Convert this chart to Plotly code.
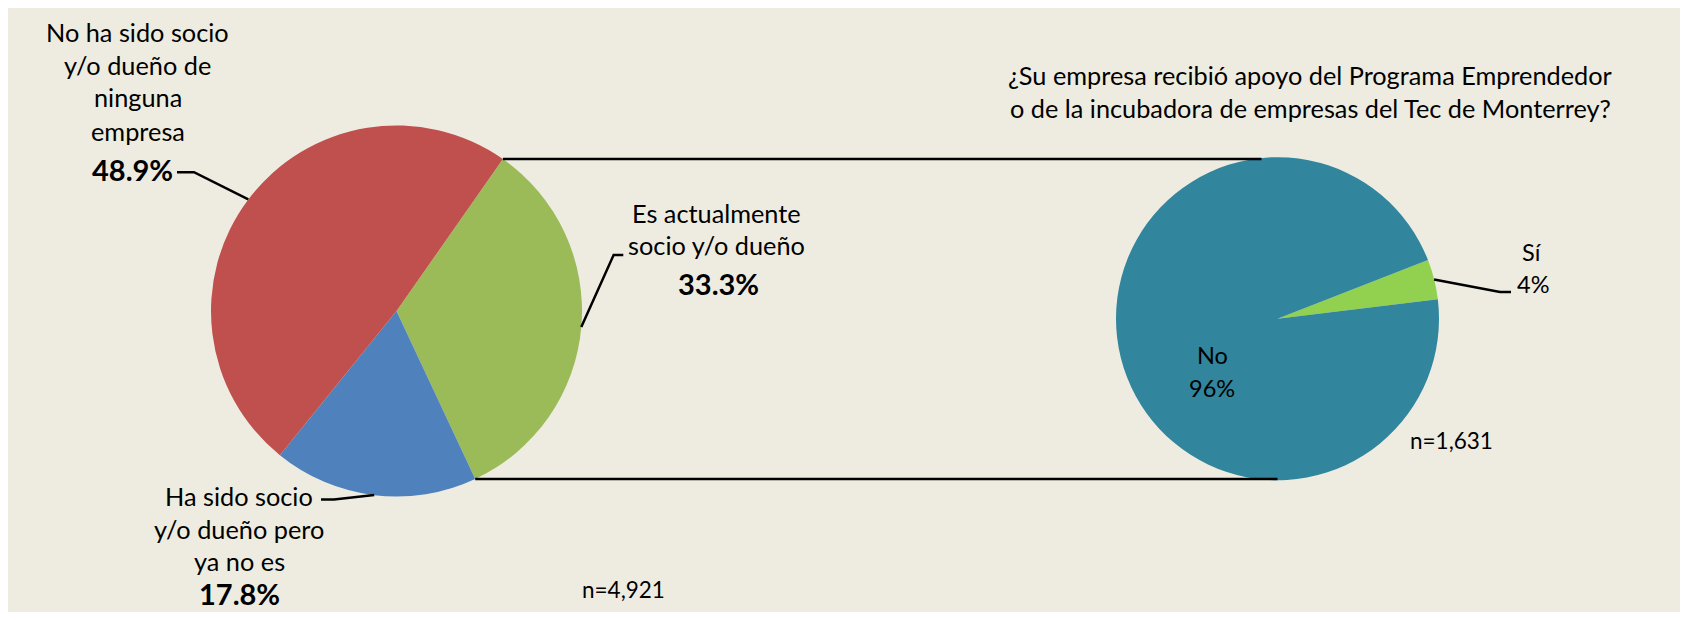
import math
import plotly.graph_objects as go

W, H = 1688, 620          # browser page
OX, OY = 8, 8             # default body margin of the page
FW, FH = W - 2 * OX, H - 2 * OY   # figure size that fits without scrollbars

# ---------------- data ----------------
main_labels = ["Es actualmente socio y/o dueño",
               "Ha sido socio y/o dueño pero ya no es",
               "No ha sido socio y/o dueño de ninguna empresa"]
main_values = [33.3, 17.8, 48.9]
main_colors = ["#9BBB59", "#4F81BD", "#C0504D"]
main_label_lines = [["Es actualmente", "socio y/o dueño"],
                    ["Ha sido socio", "y/o dueño pero", "ya no es"],
                    ["No ha sido socio", "y/o dueño de", "ninguna", "empresa"]]
main_n = "n=4,921"

sub_labels = ["Sí", "No"]
sub_values = [4, 96]
sub_colors = ["#92D050", "#31859C"]
sub_n = "n=1,631"
sub_title = ["¿Su empresa recibió apoyo del Programa Emprendedor",
             "o de la incubadora de empresas del Tec de Monterrey?"]

# ---------------- geometry (page pixels) ----------------
P1 = dict(cx=396.5, cy=311.0, r=185.5, rot=35.0)
P2 = dict(cx=1277.5, cy=318.7, r=161.5, rot=68.7)

FONT = "Lato"
FS = 25.3      # main labels / title
FS_PCT = 29    # bold percentages
FS_SUB = 23.5  # labels of the second pie
FS_N = 22.5    # sample sizes
BG = "#EEECE1"
LW = 2.5


def domain(p):
    return dict(x=[(p["cx"] - p["r"] - OX) / FW, (p["cx"] + p["r"] - OX) / FW],
                y=[1 - (p["cy"] + p["r"] - OY) / FH, 1 - (p["cy"] - p["r"] - OY) / FH])


def point(p, values, k, frac):
    tot = sum(values)
    cum = sum(values[:k]) + frac * values[k]
    a = math.radians(p["rot"] + 360.0 * cum / tot)
    return (p["cx"] + p["r"] * math.sin(a), p["cy"] - p["r"] * math.cos(a))


fig = go.Figure()
fig.add_trace(go.Pie(labels=main_labels, values=main_values, sort=False,
                     direction="clockwise", rotation=P1["rot"],
                     marker=dict(colors=main_colors, line=dict(width=0)),
                     textinfo="none", hoverinfo="skip", showlegend=False,
                     domain=domain(P1)))
fig.add_trace(go.Pie(labels=sub_labels, values=sub_values, sort=False,
                     direction="clockwise", rotation=P2["rot"],
                     marker=dict(colors=sub_colors, line=dict(width=0)),
                     textinfo="none", hoverinfo="skip", showlegend=False,
                     domain=domain(P2)))
# invisible trace to anchor the pixel-coordinate axes used for decorations
fig.add_trace(go.Scatter(x=[OX, W - OX], y=[OY, H - OY], mode="markers",
                         marker=dict(opacity=0), hoverinfo="skip", showlegend=False))

shapes = []


def line_path(pts, width=LW):
    d = "M " + " L ".join(f"{x:.1f},{y:.1f}" for x, y in pts)
    return dict(type="path", xref="x", yref="y", path=d,
                line=dict(color="black", width=width))


# connectors between pies
top = point(P1, main_values, 0, 0.0)
bot = point(P1, main_values, 0, 1.0)
shapes.append(line_path([top, (P2["cx"] - 16, top[1])]))
shapes.append(line_path([bot, (P2["cx"], bot[1])]))

# leader lines
red_mid = point(P1, main_values, 2, 0.5)
green_mid = point(P1, main_values, 0, 0.5)
blue_mid = point(P1, main_values, 1, 0.5)
si_mid = point(P2, sub_values, 0, 0.5)
shapes.append(line_path([(177.0, 172.2), (194.0, 172.2), red_mid]))
shapes.append(line_path([(623.3, 255.1), (613.6, 255.1), green_mid]))
shapes.append(line_path([(321.0, 499.5), (334.0, 499.5), blue_mid]))
shapes.append(line_path([si_mid, (1500.0, 292.0), (1511.0, 292.0)]))

annotations = []


def txt(x, y, s, bold=False, size=FS):
    annotations.append(dict(xref="x", yref="y", x=x, y=y,
                            text=(f"<b>{s}</b>" if bold else s),
                            showarrow=False, xanchor="center", yanchor="middle",
                            font=dict(family=FONT, size=size, color="black")))


def pct(v):
    return f"{v:.1f}%"


# red label (index 2)
for s, y in zip(main_label_lines[2], [32.3, 64.6, 96.9, 131.3]):
    txt(137.8, y, s)
txt(132.0, 169.0, pct(main_values[2]), bold=True, size=FS_PCT)
# green label (index 0)
for s, y in zip(main_label_lines[0], [213.0, 245.4]):
    txt(716.0, y, s)
txt(718.0, 283.0, pct(main_values[0]), bold=True, size=FS_PCT)
# blue label (index 1)
for s, y in zip(main_label_lines[1], [496.0, 528.6, 560.9]):
    txt(239.0, y, s)
txt(239.0, 593.0, pct(main_values[1]), bold=True, size=FS_PCT)
txt(623.0, 589.0, main_n, size=FS_N)

# second pie
for s, y in zip(sub_title, [75.4, 107.7]):
    txt(1310.0, y, s)
txt(1532.0, 252.0, sub_labels[0], size=FS_SUB)
txt(1533.0, 284.0, f"{sub_values[0]}%", size=FS_SUB)
txt(1212.0, 355.0, sub_labels[1], size=FS_SUB)
txt(1212.0, 388.0, f"{sub_values[1]}%", size=FS_SUB)
txt(1451.0, 440.0, sub_n, size=FS_N)

fig.update_layout(
    width=FW, height=FH,
    margin=dict(l=0, r=0, t=0, b=0),
    paper_bgcolor=BG, plot_bgcolor="rgba(0,0,0,0)",
    xaxis=dict(range=[OX, W - OX], visible=False, fixedrange=True, domain=[0, 1]),
    yaxis=dict(range=[H - OY, OY], visible=False, fixedrange=True, domain=[0, 1]),
    shapes=shapes, annotations=annotations,
    font=dict(family=FONT, size=FS, color="black"),
)

fig.write_html("out.html")
